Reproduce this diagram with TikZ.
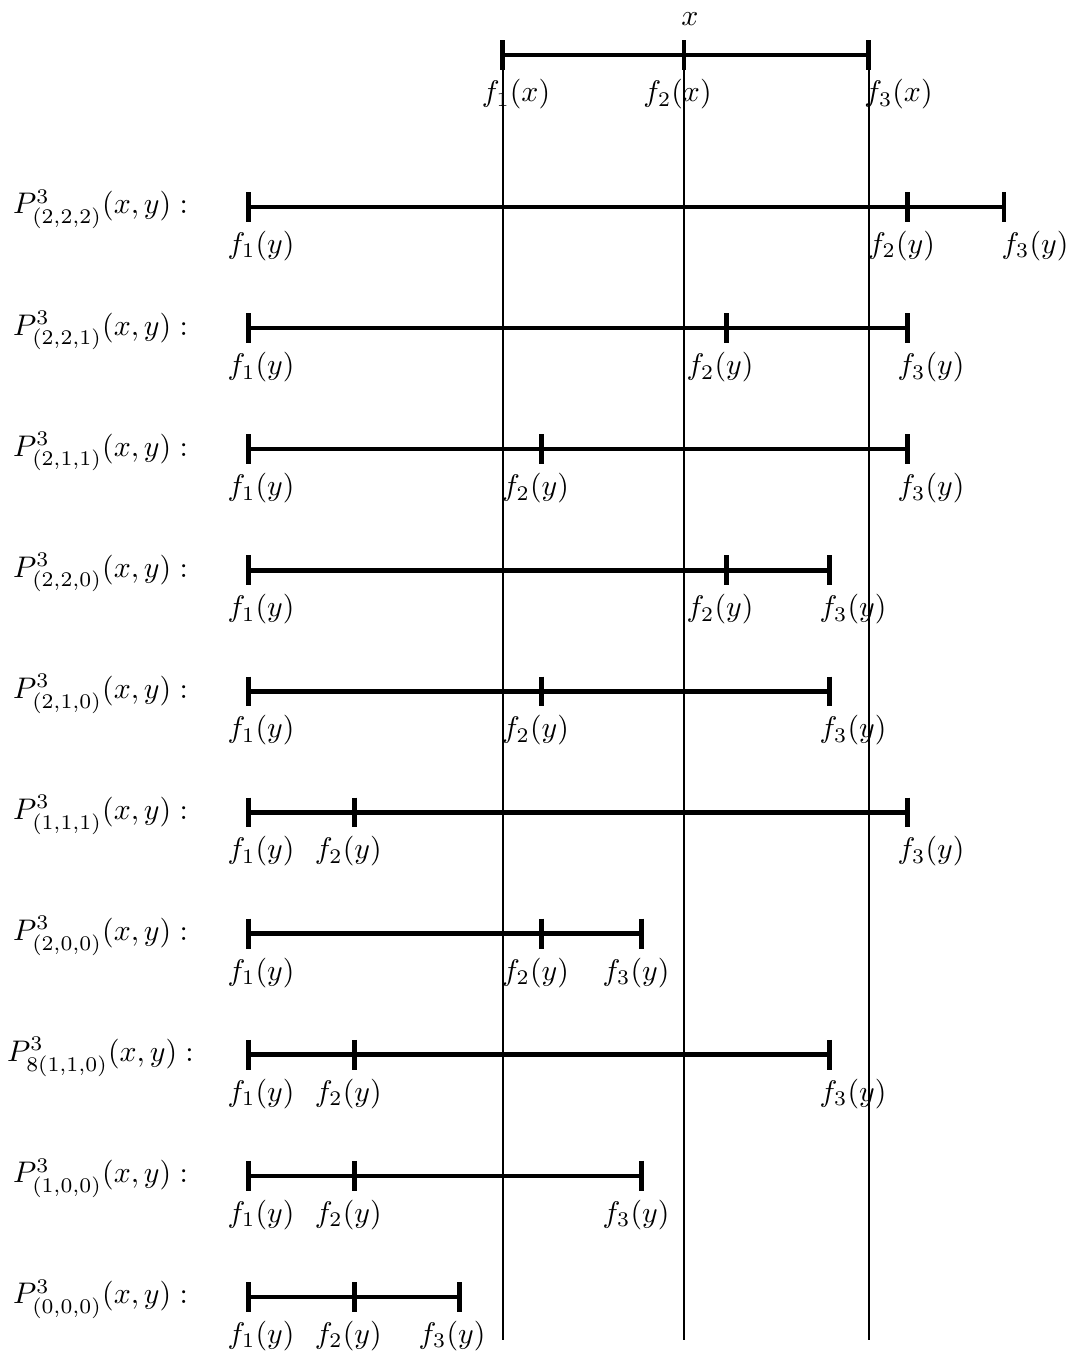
\documentclass[tikz,border=0pt]{standalone}
\begin{document}
\begin{tikzpicture}[x=0.0118cm, y=-0.0118cm,
  seg/.style={line width=1.5pt},
  guide/.style={line width=0.7pt},
  lbl/.style={inner sep=0pt},
  plbl/.style={inner sep=0pt, anchor=base}]
\useasboundingbox (0,0) rectangle (1072,1353);
% top interval x
\coordinate (t1) at (502.7,55);
\coordinate (t2) at (684,55);
\coordinate (t3) at (868.7,55);
\coordinate (v1) at (502.7,1340);
\coordinate (v2) at (684,1340);
\coordinate (v3) at (868.7,1340);
\draw[guide] ([yshift=5pt]t1) -- (v1);
\draw[guide] ([yshift=5pt]t2) -- (v2);
\draw[guide] ([yshift=5pt]t3) -- (v3);
\draw[seg] (t1) -- (t3);
\foreach \t in {t1,t2,t3} \draw[seg] ([yshift=5pt]\t) -- ([yshift=-5pt]\t);
\node[lbl] (xl) at (690,19) {$x$};
\node[lbl] (fx1) at (516,94.5) {$f_1(x)$};
\node[lbl] (fx2) at (677.5,94.5) {$f_2(x)$};
\node[lbl] (fx3) at (898.5,94.5) {$f_3(x)$};
% rows
\foreach \i/\s/\b/\c/\lb/\lc [evaluate=\i as \y using 207+121.1*(\i-1)] in {
  1/{(2,2,2)}/907.7/1004/901.5/1035,
  2/{(2,2,1)}/726.7/907.7/720/931,
  3/{(2,1,1)}/541.7/907.7/535.5/931,
  4/{(2,2,0)}/726.7/829.3/720/853,
  5/{(2,1,0)}/541.7/829.3/535.5/853,
  6/{(1,1,1)}/354.3/907.7/348.3/931,
  7/{(2,0,0)}/541.7/641.7/535.5/636,
  8/{8(1,1,0)}/354.3/829.3/348.3/853,
  9/{(1,0,0)}/354.3/641.7/348.3/636,
  10/{(0,0,0)}/354.3/459.6/348.3/452}
{
  \node[plbl] (P\i) at (100.5,{\y+7}) {$P^3_{\s}(x,y):$};
  \coordinate (a\i) at (248.5,\y);
  \coordinate (b\i) at (\b,\y);
  \coordinate (c\i) at (\c,\y);
  \draw[seg] (a\i) -- (c\i);
  \draw[seg] ([yshift=5pt]a\i) -- ([yshift=-5pt]a\i);
  \draw[seg] ([yshift=5pt]b\i) -- ([yshift=-5pt]b\i);
  \draw[seg] ([yshift=5pt]c\i) -- ([yshift=-5pt]c\i);
  \node[lbl] (la\i) at (261,{\y+39}) {$f_1(y)$};
  \node[lbl] (lb\i) at (\lb,{\y+39}) {$f_2(y)$};
  \node[lbl] (lc\i) at (\lc,{\y+39}) {$f_3(y)$};
}
\end{tikzpicture}
\end{document}
